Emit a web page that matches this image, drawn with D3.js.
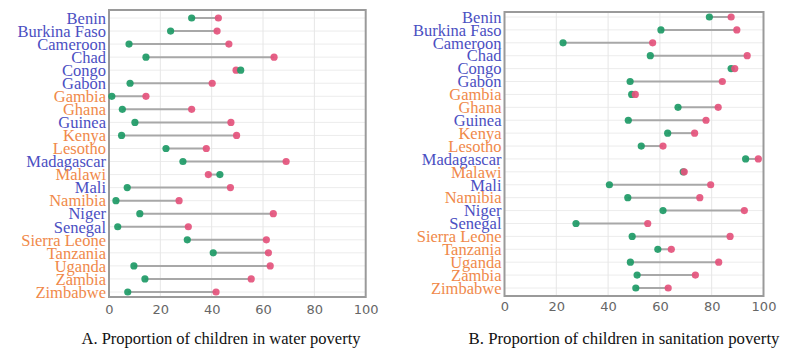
<!DOCTYPE html>
<html>
<head>
<meta charset="utf-8">
<script src="https://cdn.jsdelivr.net/npm/d3@7"></script>
<style>
  html, body { margin: 0; padding: 0; background: #fff; }
  svg { display: block; }
</style>
</head>
<body>
<svg id="chart" width="792" height="349"></svg>
<script>
// Countries, top to bottom
const countries = ["Benin", "Burkina Faso", "Cameroon", "Chad", "Congo", "Gabon", "Gambia",
  "Ghana", "Guinea", "Kenya", "Lesotho", "Madagascar", "Malawi", "Mali", "Namibia", "Niger",
  "Senegal", "Sierra Leone", "Tanzania", "Uganda", "Zambia", "Zimbabwe"];

// Language group of each country (label colour)
const francophone = ["Benin", "Burkina Faso", "Cameroon", "Chad", "Congo", "Gabon", "Guinea",
  "Madagascar", "Mali", "Niger", "Senegal"];

// A. Water poverty (%): low end (green) and high end (pink)
const waterLow  = [32.2, 24.0, 7.8, 14.4, 51.3, 8.2, 1.1, 5.2, 10.1, 4.9, 22.2, 28.8, 43.2, 7.1, 2.7, 12.0, 3.4, 30.5, 40.6, 9.7, 14.0, 7.3];
const waterHigh = [42.6, 42.1, 46.7, 64.3, 49.5, 40.2, 14.4, 32.2, 47.5, 49.7, 37.9, 69.0, 38.7, 47.3, 27.3, 64.0, 30.9, 61.3, 62.1, 62.8, 55.4, 41.7];

// B. Sanitation poverty (%)
const sanLow  = [79.1, 60.4, 22.6, 56.3, 87.5, 48.5, 49.1, 67.0, 47.8, 63.0, 52.8, 93.1, 69.0, 40.5, 47.6, 61.2, 27.6, 49.3, 59.2, 48.6, 51.2, 50.7];
const sanHigh = [87.5, 89.7, 57.2, 93.7, 88.9, 84.1, 50.5, 82.5, 77.8, 73.4, 61.2, 98.0, 69.4, 79.6, 75.4, 92.6, 55.3, 87.1, 64.4, 82.7, 73.7, 63.2];

const xTicks = [0, 20, 40, 60, 80, 100];

const GREEN = "#1d9a66";
const PINK = "#e4527c";
const BLUE = "#4b4fc2";
const ORANGE = "#f0894a";

const svg = d3.select("#chart");

function drawPanel(p) {
  const g = svg.append("g");
  const x = d3.scaleLinear().domain([0, 100]).range([p.left, p.right]);
  const y = d3.scalePoint().domain(countries).range([p.firstRow, p.lastRow]);

  // background grid
  g.append("g").selectAll("line").data(countries).join("line")
    .attr("x1", p.left).attr("x2", p.right)
    .attr("y1", d => y(d)).attr("y2", d => y(d))
    .attr("stroke", "#ececec").attr("stroke-width", 1);
  g.append("g").selectAll("line").data(xTicks.slice(1, -1)).join("line")
    .attr("x1", d => x(d)).attr("x2", d => x(d))
    .attr("y1", p.top).attr("y2", p.bottom)
    .attr("stroke", "#e6e6e6").attr("stroke-width", 1);

  // frame
  g.append("rect")
    .attr("x", p.left).attr("y", p.top)
    .attr("width", p.right - p.left).attr("height", p.bottom - p.top)
    .attr("fill", "none").attr("stroke", "#9a9a9a").attr("stroke-width", 2);

  const rows = countries.map((c, i) => ({ c, lo: p.low[i], hi: p.high[i] }));

  // connectors
  g.append("g").selectAll("line").data(rows).join("line")
    .attr("x1", d => x(d.lo)).attr("x2", d => x(d.hi))
    .attr("y1", d => y(d.c)).attr("y2", d => y(d.c))
    .attr("stroke", "#a8a8a8").attr("stroke-width", 2);

  // dots: the right-hand dot of each pair is drawn last
  const dots = [];
  rows.forEach(d => {
    const pair = [{ c: d.c, v: d.lo, col: GREEN }, { c: d.c, v: d.hi, col: PINK }];
    pair.sort((a, b) => a.v - b.v);
    dots.push(...pair);
  });
  g.append("g").selectAll("circle").data(dots).join("circle")
    .attr("cx", d => x(d.v)).attr("cy", d => y(d.c))
    .attr("r", 3.6).attr("fill", d => d.col).attr("fill-opacity", 0.92);

  // country labels
  g.append("g").selectAll("text").data(countries).join("text")
    .attr("x", p.left - 3)
    .attr("y", d => y(d))
    .attr("dy", "0.35em")
    .attr("text-anchor", "end")
    .attr("font-family", "'Liberation Serif', 'Times New Roman', serif")
    .attr("font-size", 16.5)
    .attr("fill", d => francophone.includes(d) ? BLUE : ORANGE)
    .text(d => d);

  // x axis tick labels
  const axis = d3.axisBottom(x).tickValues(xTicks).tickSize(0).tickPadding(0);
  const ax = g.append("g").attr("transform", `translate(0,${p.tickY})`).call(axis);
  ax.select(".domain").remove();
  ax.selectAll("text")
    .attr("font-family", "'DejaVu Sans', sans-serif")
    .attr("font-size", 13).attr("fill", "#666").attr("dy", "0");

  // caption
  g.append("text")
    .attr("x", p.captionX).attr("y", 344)
    .attr("text-anchor", "middle")
    .attr("font-family", "'Liberation Serif', 'Times New Roman', serif")
    .attr("font-size", p.captionSize).attr("fill", "#111")
    .text(p.caption);
}

drawPanel({
  left: 109, right: 365.7, top: 10, bottom: 297,
  firstRow: 18, lastRow: 292, tickY: 314,
  low: waterLow, high: waterHigh,
  captionX: 221, captionSize: 16.5, caption: "A. Proportion of children in water poverty"
});

drawPanel({
  left: 504.5, right: 763.5, top: 12, bottom: 296,
  firstRow: 17, lastRow: 288, tickY: 311,
  low: sanLow, high: sanHigh,
  captionX: 624, captionSize: 16.8, caption: "B. Proportion of children in sanitation poverty"
});
</script>
</body>
</html>
